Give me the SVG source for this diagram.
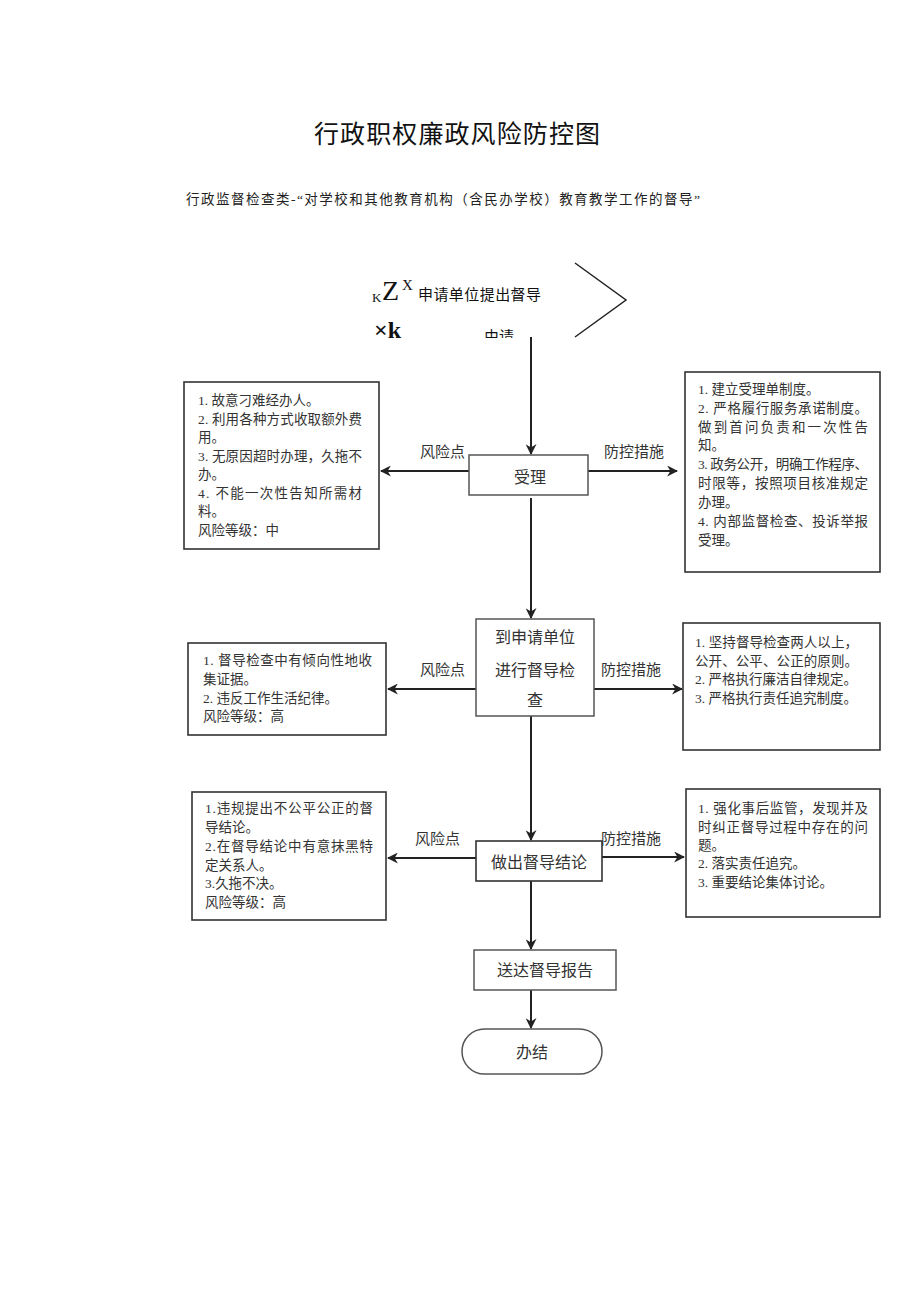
<svg xmlns="http://www.w3.org/2000/svg" width="920" height="1301" viewBox="0 0 920 1301">
<style>
.t{font-family:"Liberation Serif","Noto Sans CJK SC",serif;fill:#333;font-size:13.5px}
.n{font-family:"Liberation Serif","Noto Sans CJK SC",serif;fill:#333;font-size:16px;text-anchor:middle}
.l{font-family:"Liberation Serif","Noto Sans CJK SC",serif;fill:#333;font-size:15px}
.box{fill:#fff;stroke:#333;stroke-width:1.6}
.nb{fill:#fff;stroke:#555;stroke-width:1.5}
.c{stroke:#222;stroke-width:2;fill:none}
</style>
<defs>
<marker id="ah" viewBox="0 0 10 10" refX="9" refY="5" markerWidth="5.5" markerHeight="5.5" orient="auto" markerUnits="strokeWidth">
<path d="M0,0 L10,5 L0,10 L3,5 Z" fill="#222"/>
</marker>
<clipPath id="topclip"><rect x="0" y="0" width="920" height="338"/></clipPath>
</defs>
<rect width="920" height="1301" fill="#fff"/>
<g id="title">
<text x="457" y="143" font-family="Noto Sans CJK SC,sans-serif" font-size="25" text-anchor="middle" fill="#111" textLength="286">行政职权廉政风险防控图</text>
<text x="186" y="204" font-family="Liberation Serif,Noto Sans CJK SC,serif" font-size="13.5" fill="#222" textLength="514">行政监督检查类-“对学校和其他教育机构（含民办学校）教育教学工作的督导”</text>
</g>
<g id="start" clip-path="url(#topclip)">
<text x="372" y="302" font-family="Liberation Serif,serif" font-size="13" fill="#111">K</text>
<text x="382" y="300" font-family="Liberation Serif,serif" font-size="28" fill="#111">Z</text>
<text x="402" y="290" font-family="Liberation Serif,serif" font-size="15" fill="#111">X</text>
<text x="418" y="300" font-family="Noto Sans CJK SC,sans-serif" font-size="15" fill="#111" textLength="123">申请单位提出督导</text>
<text x="374" y="338" font-family="Liberation Serif,serif" font-size="24" font-weight="bold" fill="#111">×k</text>
<text x="484" y="342" font-family="Noto Sans CJK SC,sans-serif" font-size="15" fill="#111">由请</text>
<path d="M575,263 L626,300 L575,337" fill="none" stroke="#222" stroke-width="1.5"/>
</g>
<g id="connectors">
<line class="c" x1="531" y1="337" x2="531" y2="454" marker-end="url(#ah)"/>
<line class="c" x1="531" y1="498" x2="531" y2="618" marker-end="url(#ah)"/>
<line class="c" x1="531" y1="716" x2="531" y2="840" marker-end="url(#ah)"/>
<line class="c" x1="531" y1="881" x2="531" y2="949" marker-end="url(#ah)"/>
<line class="c" x1="531" y1="990" x2="531" y2="1028" marker-end="url(#ah)"/>
<line class="c" x1="469" y1="471" x2="381" y2="471" marker-end="url(#ah)"/>
<line class="c" x1="588" y1="471" x2="677" y2="471" marker-end="url(#ah)"/>
<line class="c" x1="476" y1="689" x2="388" y2="689" marker-end="url(#ah)"/>
<line class="c" x1="594" y1="689" x2="682" y2="689" marker-end="url(#ah)"/>
<line class="c" x1="476" y1="858" x2="388" y2="858" marker-end="url(#ah)"/>
<line class="c" x1="596" y1="857" x2="684" y2="857" marker-end="url(#ah)"/>
<text class="l" x="420" y="457">风险点</text>
<text class="l" x="604" y="457">防控措施</text>
<text class="l" x="420" y="675">风险点</text>
<text class="l" x="601" y="675">防控措施</text>
<text class="l" x="415" y="844">风险点</text>
<text class="l" x="601" y="844">防控措施</text>
</g>
<g id="n-accept">
<rect class="nb" x="469" y="455" width="119" height="40"/>
<text class="n" x="530" y="483">受理</text>
</g>
<g id="n-inspect">
<rect class="nb" x="476" y="619" width="118" height="97"/>
<text class="n" x="535" y="643">到申请单位</text>
<text class="n" x="535" y="676">进行督导检</text>
<text class="n" x="535" y="706">查</text>
</g>
<g id="n-conclude">
<rect class="box" x="476" y="841" width="126" height="40"/>
<text class="n" x="539" y="868">做出督导结论</text>
</g>
<g id="n-report">
<rect class="nb" x="474" y="950" width="142" height="40"/>
<text class="n" x="545" y="976">送达督导报告</text>
</g>
<g id="n-end">
<rect class="nb" x="462" y="1029" width="140" height="45" rx="22.5"/>
<text class="n" x="532" y="1058">办结</text>
</g>
<g id="risk1">
<rect class="box" x="184" y="382" width="195" height="167"/>
<text class="t" x="198" y="405">1. 故意刁难经办人。</text>
<text class="t" x="198" y="424" textLength="164">2. 利用各种方式收取额外费</text>
<text class="t" x="198" y="442">用。</text>
<text class="t" x="198" y="461" textLength="164">3. 无原因超时办理，久拖不</text>
<text class="t" x="198" y="479">办。</text>
<text class="t" x="198" y="498" textLength="164">4. 不能一次性告知所需材</text>
<text class="t" x="198" y="516">料。</text>
<text class="t" x="198" y="535">风险等级：中</text>
</g>
<g id="ctrl1">
<rect class="box" x="685" y="372" width="195" height="200"/>
<text class="t" x="698" y="394">1. 建立受理单制度。</text>
<text class="t" x="698" y="413" textLength="170">2. 严格履行服务承诺制度。</text>
<text class="t" x="698" y="432" textLength="170">做到首问负责和一次性告</text>
<text class="t" x="698" y="450">知。</text>
<text class="t" x="698" y="469" textLength="170">3. 政务公开，明确工作程序、</text>
<text class="t" x="698" y="488" textLength="170">时限等，按照项目核准规定</text>
<text class="t" x="698" y="507">办理。</text>
<text class="t" x="698" y="526" textLength="170">4. 内部监督检查、投诉举报</text>
<text class="t" x="698" y="545">受理。</text>
</g>
<g id="risk2">
<rect class="box" x="188" y="643" width="198" height="92"/>
<text class="t" x="203" y="665" textLength="169">1. 督导检查中有倾向性地收</text>
<text class="t" x="203" y="684">集证据。</text>
<text class="t" x="203" y="703">2. 违反工作生活纪律。</text>
<text class="t" x="203" y="721">风险等级：高</text>
</g>
<g id="ctrl2">
<rect class="box" x="683" y="623" width="197" height="127"/>
<text class="t" x="695" y="647" textLength="163">1. 坚持督导检查两人以上，</text>
<text class="t" x="695" y="666" textLength="163">公开、公平、公正的原则。</text>
<text class="t" x="695" y="684">2. 严格执行廉洁自律规定。</text>
<text class="t" x="695" y="703">3. 严格执行责任追究制度。</text>
</g>
<g id="risk3">
<rect class="box" x="192" y="792" width="194" height="128"/>
<text class="t" x="205" y="813" textLength="168">1.违规提出不公平公正的督</text>
<text class="t" x="205" y="832">导结论。</text>
<text class="t" x="205" y="851" textLength="168">2.在督导结论中有意抹黑特</text>
<text class="t" x="205" y="870">定关系人。</text>
<text class="t" x="205" y="888">3.久拖不决。</text>
<text class="t" x="205" y="907">风险等级：高</text>
</g>
<g id="ctrl3">
<rect class="box" x="686" y="789" width="194" height="128"/>
<text class="t" x="698" y="813" textLength="170">1.  强化事后监管，发现并及</text>
<text class="t" x="698" y="832" textLength="170">时纠正督导过程中存在的问</text>
<text class="t" x="698" y="850">题。</text>
<text class="t" x="698" y="868">2. 落实责任追究。</text>
<text class="t" x="698" y="887">3. 重要结论集体讨论。</text>
</g>
</svg>
